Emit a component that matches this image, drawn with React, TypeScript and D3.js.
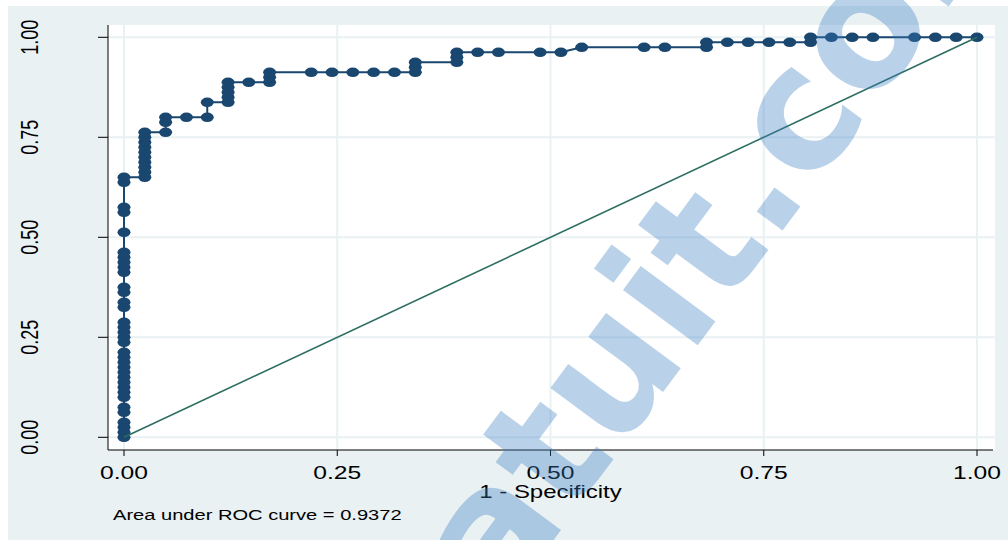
import React from 'react';
import * as d3 from 'd3';

// 1 - specificity for each cut point column, and the sensitivities plotted in that column
const oneMinusSpec = [
  0, 0.0244, 0.0488, 0.0732, 0.0976, 0.122, 0.1463, 0.1707, 0.2195, 0.2439, 0.2683, 0.2927,
  0.3171, 0.3415, 0.3902, 0.4146, 0.439, 0.4878, 0.5122, 0.5366, 0.6098, 0.6341, 0.6829,
  0.7073, 0.7317, 0.7561, 0.7805, 0.8049, 0.8293, 0.8537, 0.878, 0.9268, 0.9512, 0.9756, 1,
];
const sensByColumn = [
  [0, 0.0125, 0.025, 0.0375, 0.0625, 0.075, 0.1, 0.1125, 0.125, 0.1375, 0.15, 0.1625, 0.175,
    0.1875, 0.2, 0.2125, 0.2375, 0.25, 0.2625, 0.275, 0.2875, 0.325, 0.3375, 0.3625, 0.375,
    0.4125, 0.425, 0.4375, 0.45, 0.4625, 0.5125, 0.5625, 0.575, 0.6375, 0.65],
  [0.65, 0.6625, 0.675, 0.6875, 0.7, 0.7125, 0.725, 0.7375, 0.75, 0.7625],
  [0.7625, 0.7875, 0.8],
  [0.8],
  [0.8, 0.8375],
  [0.8375, 0.85, 0.8625, 0.875, 0.8875],
  [0.8875],
  [0.8875, 0.9, 0.9125],
  [0.9125], [0.9125], [0.9125], [0.9125], [0.9125],
  [0.9125, 0.925, 0.9375],
  [0.9375, 0.95, 0.9625],
  [0.9625], [0.9625], [0.9625], [0.9625],
  [0.975],
  [0.975], [0.975],
  [0.975, 0.9875],
  [0.9875], [0.9875], [0.9875], [0.9875],
  [0.9875, 1],
  [1], [1], [1],
  [1], [1], [1], [1],
];
const tickValues = [0, 0.25, 0.5, 0.75, 1];
const xTitle = '1 - Specificity';
const aucNote = 'Area under ROC curve = 0.9372';
const watermark = 'gratuit.com';

const font = 'Liberation Sans, Arial, Helvetica, sans-serif';
const navy = '#1a476f';
const bg = '#e9f1f3';
const stretch = 1.37; // the original picture is widened

export default function App() {
  // plot region
  const left = 108, right = 995, top = 25, bottom = 450;

  const x = d3.scaleLinear().domain([0, 1]).range([124, 977]);
  const y = d3.scaleLinear().domain([0, 1]).range([437.3, 37.3]);

  const pts: [number, number][] = [];
  oneMinusSpec.forEach((fp, i) => {
    sensByColumn[i].forEach(s => pts.push([fp, s]));
  });

  const line = d3.line<[number, number]>().x(d => x(d[0])).y(d => y(d[1]));

  return (
    <svg width={1008} height={540} style={{ position: 'absolute', left: 0, top: 0 }}>
      <rect x={8} y={6} width={1000} height={534} fill={bg} />
      <rect x={left} y={top} width={right - left} height={bottom - top} fill="#fff" />

      {/* grid */}
      {tickValues.map(t => (
        <g key={'g' + t}>
          <line x1={x(t)} x2={x(t)} y1={top} y2={bottom} stroke={bg} strokeWidth={2} />
          <line x1={left} x2={right} y1={y(t)} y2={y(t)} stroke={bg} strokeWidth={2} />
        </g>
      ))}

      {/* roc curve */}
      <path d={line(pts) || ''} fill="none" stroke={navy} strokeWidth={2} />
      {pts.map((p, i) => (
        <ellipse key={i} cx={x(p[0])} cy={y(p[1])} rx={6.5} ry={4.8} fill={navy} />
      ))}

      {/* reference line */}
      <line x1={x(0)} y1={y(0)} x2={x(1)} y2={y(1)} stroke="#2d6e62" strokeWidth={1.6} />

      {/* axes */}
      <line x1={left} x2={left} y1={top} y2={bottom} stroke="#000" strokeWidth={1} />
      <line x1={left} x2={993} y1={bottom} y2={bottom} stroke="#000" strokeWidth={1} />
      {tickValues.map(t => (
        <g key={'t' + t} fontFamily={font} fontSize={18} fill="#000">
          <line x1={left - 10} x2={left} y1={y(t)} y2={y(t)} stroke="#000" />
          <line x1={x(t)} x2={x(t)} y1={bottom} y2={bottom + 6} stroke="#000" />
          <text transform={`translate(38,${y(t)}) scale(${stretch},1) rotate(-90)`} textAnchor="middle">
            {d3.format('.2f')(t)}
          </text>
          <text transform={`translate(${x(t)},478.5) scale(${stretch},1)`} textAnchor="middle">
            {d3.format('.2f')(t)}
          </text>
        </g>
      ))}
      <text transform={`translate(${x(0.5)},497.5) scale(${stretch},1)`} textAnchor="middle"
        fontFamily={font} fontSize={17.5} fill="#000">{xTitle}</text>
      <text transform={`translate(113,520) scale(1.34,1)`} fontFamily={font} fontSize={15} fill="#000">
        {aucNote}
      </text>

      {/* watermark */}
      <text transform="translate(712,326) rotate(-53.5)" textAnchor="middle" fontFamily="DejaVu Sans, sans-serif"
        fontWeight="bold" fontSize={170} fill="#3b7dc4" opacity={0.35}>{watermark}</text>
    </svg>
  );
}
